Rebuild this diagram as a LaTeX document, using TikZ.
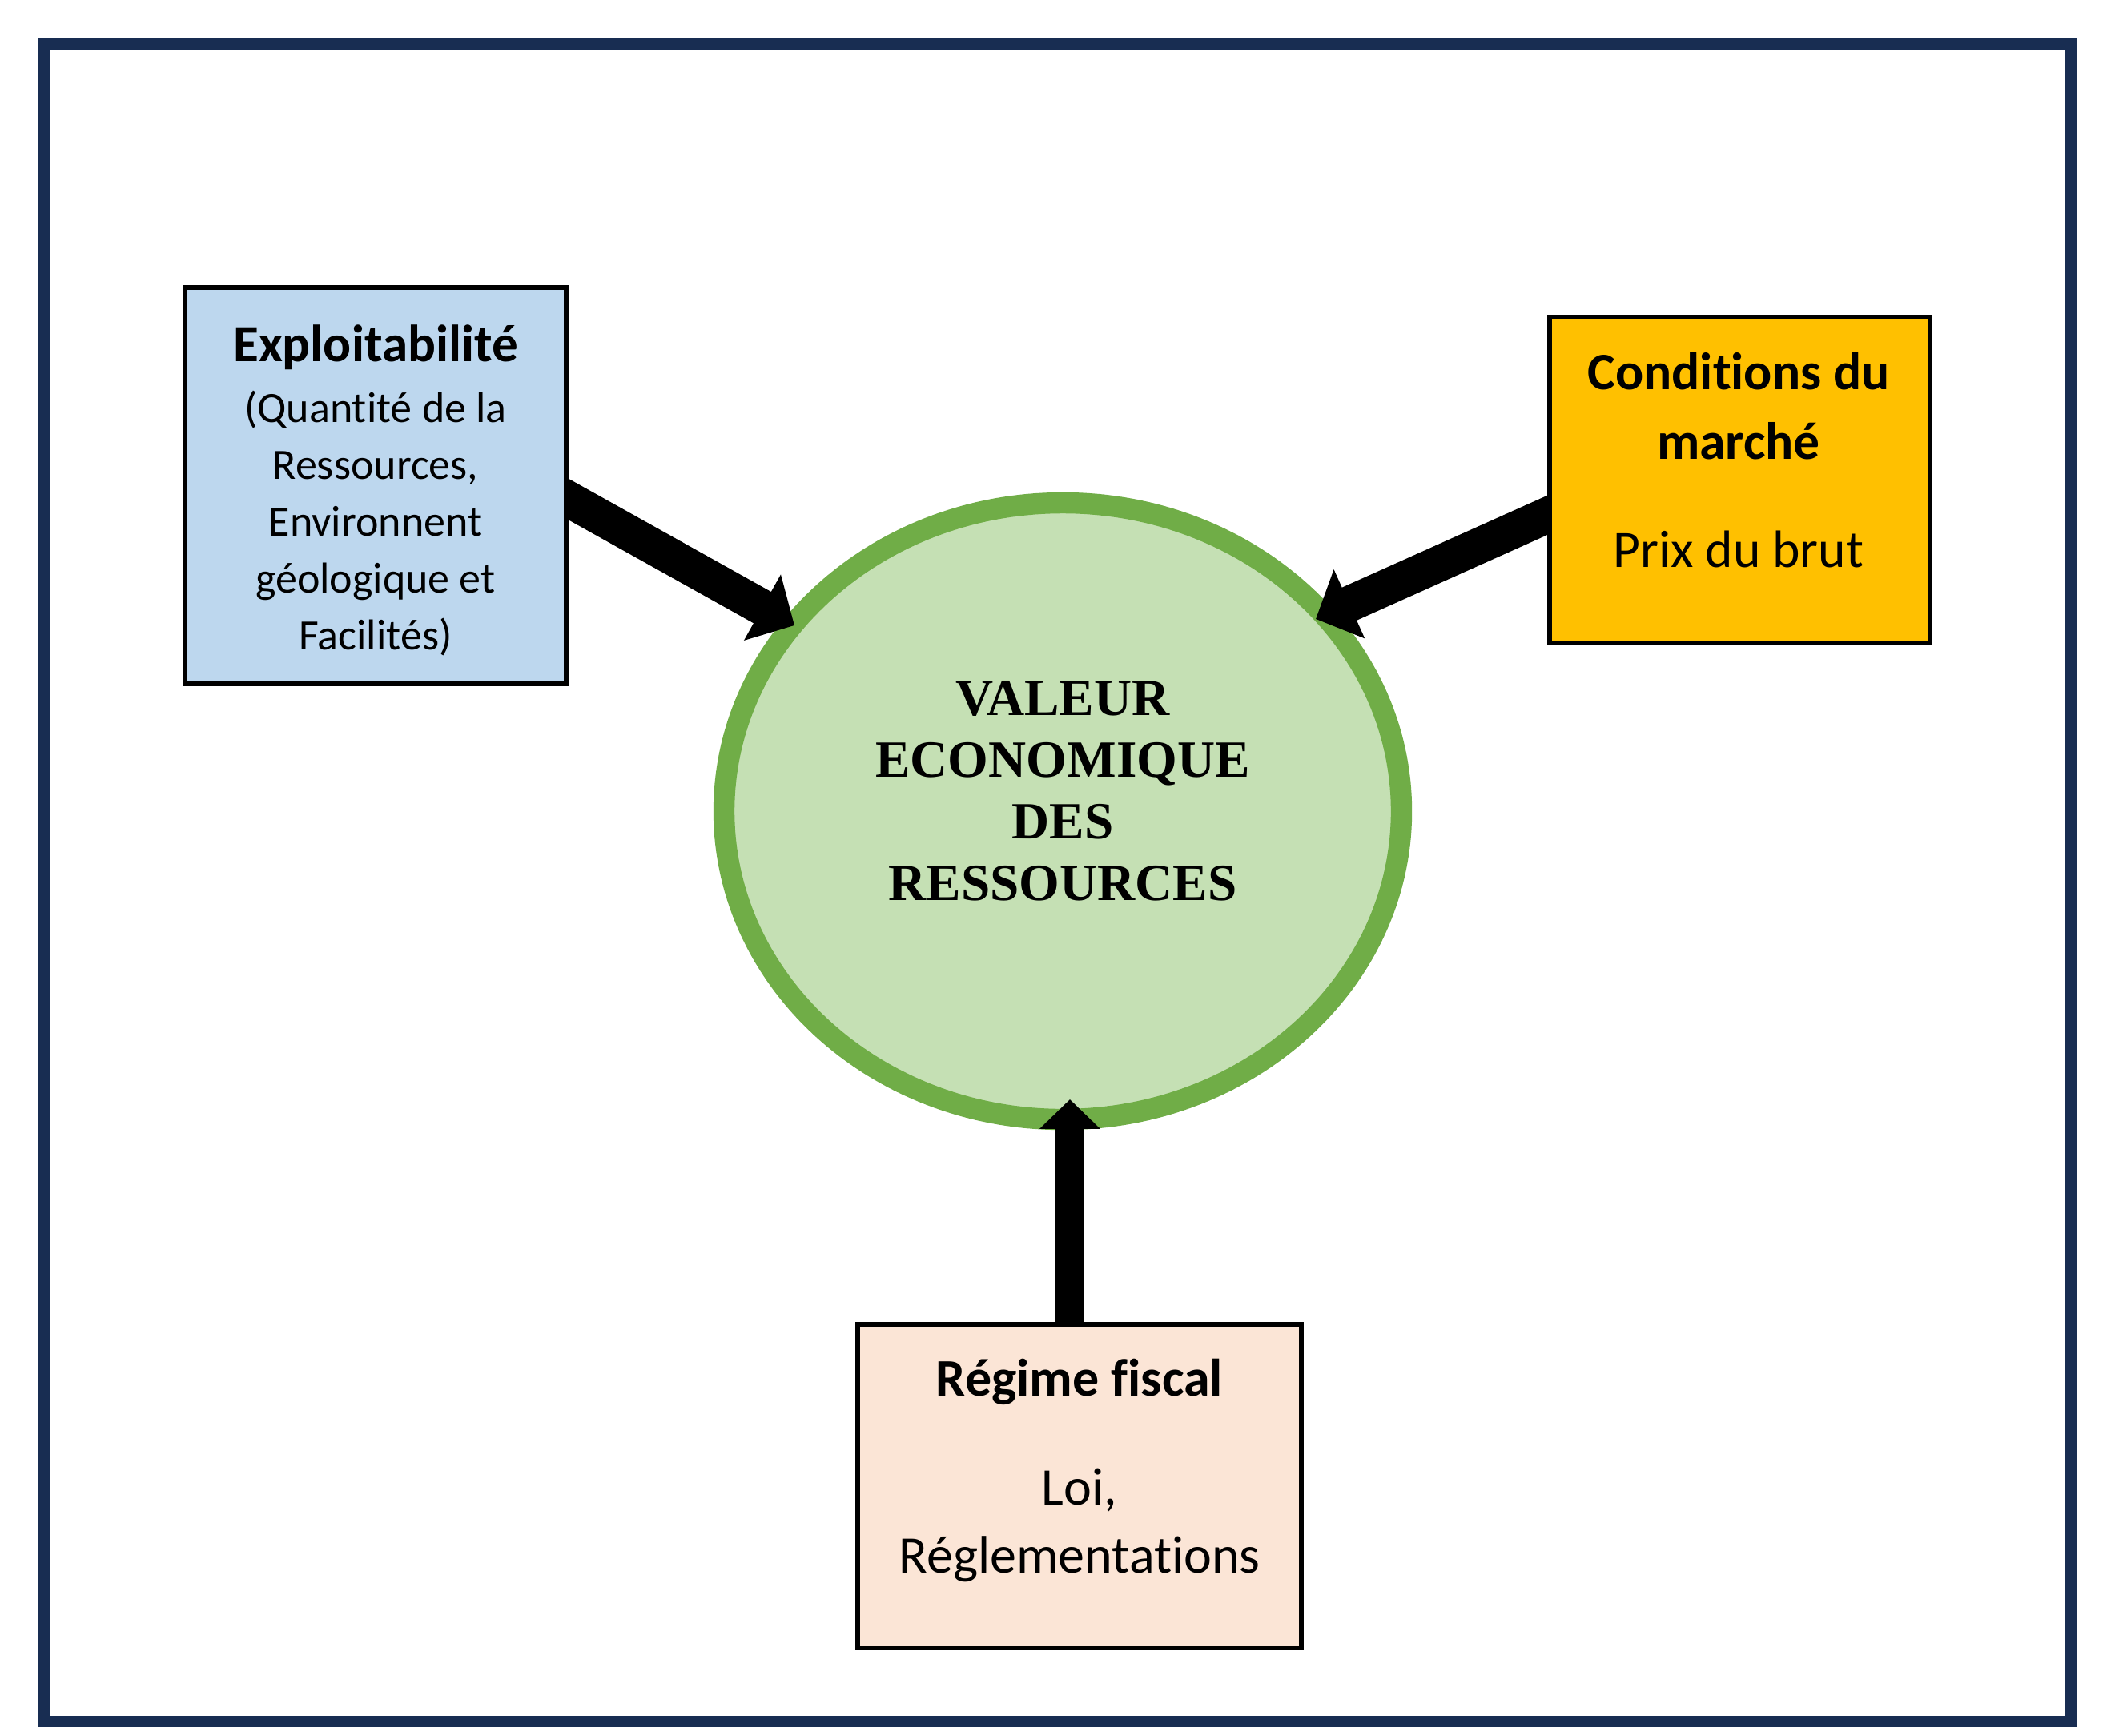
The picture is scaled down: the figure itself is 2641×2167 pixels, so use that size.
\documentclass[tikz,border=0pt]{standalone}
\usepackage{fontspec}
\setmainfont{Carlito}[Ligatures=NoCommon]
\newfontfamily\serifb{Liberation Serif}
\usetikzlibrary{arrows.meta,shapes.geometric}
\definecolor{framecol}{RGB}{24,45,82}
\definecolor{bluebox}{RGB}{189,215,238}
\definecolor{yellowbox}{RGB}{255,192,0}
\definecolor{peachbox}{RGB}{251,229,214}
\definecolor{ellfill}{RGB}{197,224,180}
\definecolor{ellline}{RGB}{112,173,71}
\pgfdeclarelayer{bottom}
\pgfdeclarelayer{mid}
\pgfsetlayers{bottom,mid,main}
\begin{document}
\begin{tikzpicture}[x=0.25pt,y=-0.25pt,
  box/.style={draw=black,line width=1.5pt,rectangle,inner sep=0pt},
  txt/.style={align=center,inner sep=0pt},
  bigarrow/.style={draw=black,line width=11.25pt,-{Triangle[length=0pt 1.02,width=0pt 2.04]}},
  smallarrow/.style={bigarrow,line width=9pt},
]
\useasboundingbox (0,0) rectangle (2641,2167);
\begin{pgfonlayer}{bottom}
\draw[framecol, line width=3.5pt] (55,55) rectangle (2586,2150);
\node[draw=ellline, fill=ellfill, line width=6.6pt, ellipse, inner sep=0pt,
      minimum width=211.5pt, minimum height=192.5pt] (val) at (1327,1013) {};
\end{pgfonlayer}

\node[box, fill=bluebox, minimum width=119pt, minimum height=123.75pt] (expl) at (469,606.5) {};
\node[box, fill=yellowbox, minimum width=118.75pt, minimum height=101.75pt] (cond) at (2172.5,599.5) {};
\node[box, fill=peachbox, minimum width=138.5pt, minimum height=101pt] (reg) at (1348,1856) {};

\begin{pgfonlayer}{mid}
\draw[bigarrow] ([shift={(-35,-2.5)}]expl.east) -- ([shift={(-335,-232)}]val.center);
\draw[bigarrow] ([shift={(37.5,27.1)}]cond.west) -- ([shift={(316,-240)}]val.center);
\draw[smallarrow] ([shift={(-12,39)}]reg.north) -- ([shift={(9,360)}]val.center);
\end{pgfonlayer}

\node[txt, font=\fontsize{13.5pt}{17.75pt}\selectfont] (expltext) at (469,612.5)
  {{\fontsize{16.3pt}{17.75pt}\selectfont\bfseries Exploitabilité}\\[1.2pt](Quantité de la\\Ressources,\\Environnent\\géologique et\\Facilités)};
\node[txt, font=\fontsize{16.4pt}{21.75pt}\selectfont] (condtext) at (2171,575)
  {\textbf{Conditions du}\\\textbf{marché}\\[12pt]Prix du brut};
\node[txt, font=\fontsize{16.5pt}{21.25pt}\selectfont] (regtext) at (1348,1836)
  {\textbf{Régime fiscal}\\[12.75pt]Loi,\\Réglementations};
\node[txt, font=\serifb\bfseries\fontsize{16.3pt}{19.25pt}\selectfont] (valtext) at (1327,988)
  {VALEUR\\ECONOMIQUE\\DES\\RESSOURCES};
\end{tikzpicture}
\end{document}
